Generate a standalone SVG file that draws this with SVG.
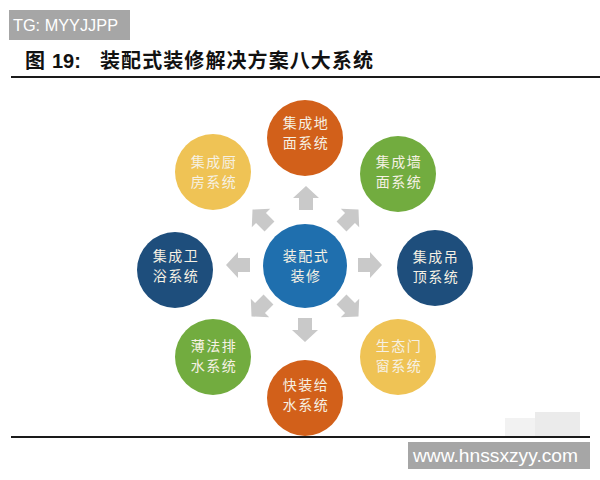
<svg xmlns="http://www.w3.org/2000/svg" width="600" height="480" viewBox="0 0 600 480">
<defs>
<style>
.t{font-family:"Noto Sans CJK SC","Liberation Sans",sans-serif;font-size:14px;fill:#f6f1e4;text-anchor:middle;letter-spacing:1.5px}
.ar{fill:#c9c9c9}
.wm{font-family:"Liberation Sans",Arial,sans-serif;fill:#ffffff}
.ttl{font-family:"Noto Sans CJK SC","Liberation Sans",sans-serif;font-size:20px;font-weight:bold;fill:#111111}
</style>
<path id="arrow" d="M-12,-7 L0,-7 L0,-13 L12,0 L0,13 L0,7 L-12,7 Z"/>
</defs>
<rect width="600" height="480" fill="#ffffff"/>
<rect x="9" y="10" width="121" height="30" fill="#a6a6a6"/>
<text class="wm" x="13" y="31" font-size="17" textLength="105" lengthAdjust="spacingAndGlyphs">TG: MYYJJPP</text>
<text class="ttl" x="25" y="68">图</text>
<text class="ttl" x="52" y="68" style="font-family:'Liberation Sans',Arial,sans-serif">19:</text>
<text class="ttl" x="100" y="68" textLength="273" lengthAdjust="spacing">装配式装修解决方案八大系统</text>
<rect x="11" y="76" width="589" height="2" fill="#1a1a1a"/>
<g id="connectors" class="ar">
<use href="#arrow" transform="translate(306,198) rotate(-90)"/>
<use href="#arrow" transform="translate(350,218) rotate(-45)"/>
<use href="#arrow" transform="translate(370,265)"/>
<use href="#arrow" transform="translate(350,308) rotate(45)"/>
<use href="#arrow" transform="translate(305,330) rotate(90)"/>
<use href="#arrow" transform="translate(260,308) rotate(135)"/>
<use href="#arrow" transform="translate(238,265) rotate(180)"/>
<use href="#arrow" transform="translate(261,218) rotate(-135)"/>
</g>
<g id="center"><circle cx="305" cy="266" r="42" fill="#1f6fae"/><text class="t" x="306" y="261">装配式</text><text class="t" x="306" y="281">装修</text></g>
<g id="n-top"><circle cx="305" cy="138" r="38" fill="#d2601a"/><text class="t" x="306" y="128">集成地</text><text class="t" x="306" y="148">面系统</text></g>
<g id="n-tr"><circle cx="398" cy="174" r="38" fill="#72ac3f"/><text class="t" x="399" y="167">集成墙</text><text class="t" x="399" y="187">面系统</text></g>
<g id="n-right"><circle cx="435" cy="268" r="38" fill="#1e4e7c"/><text class="t" x="436" y="262">集成吊</text><text class="t" x="436" y="282">顶系统</text></g>
<g id="n-br"><circle cx="398" cy="357" r="38" fill="#efc355"/><text class="t" x="399" y="351">生态门</text><text class="t" x="399" y="371">窗系统</text></g>
<g id="n-bottom"><circle cx="305" cy="398" r="38" fill="#d2601a"/><text class="t" x="306" y="390">快装给</text><text class="t" x="306" y="410">水系统</text></g>
<g id="n-bl"><circle cx="213" cy="357" r="38" fill="#72ac3f"/><text class="t" x="214" y="351">薄法排</text><text class="t" x="214" y="371">水系统</text></g>
<g id="n-left"><circle cx="175" cy="270" r="38" fill="#1e4e7c"/><text class="t" x="176" y="261">集成卫</text><text class="t" x="176" y="281">浴系统</text></g>
<g id="n-tl"><circle cx="213" cy="172" r="38" fill="#efc355"/><text class="t" x="214" y="167">集成厨</text><text class="t" x="214" y="187">房系统</text></g>
<g><rect x="505" y="418" width="30" height="18" fill="#f2f2f2"/><rect x="535" y="412" width="45" height="24" fill="#ebebeb"/></g>
<rect x="11" y="436" width="579" height="2" fill="#1a1a1a"/>
<rect x="408" y="442" width="182" height="27" fill="#a6a6a6"/>
<text class="wm" x="413" y="462" font-size="18" textLength="165" lengthAdjust="spacingAndGlyphs">www.hnssxzyy.com</text>
</svg>
